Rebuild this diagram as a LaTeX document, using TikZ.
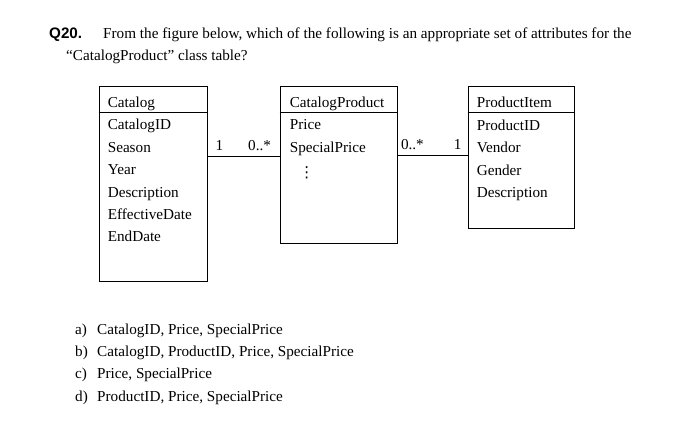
\documentclass[tikz,border=0pt]{standalone}
\usepackage{fontspec}
\setmainfont{Liberation Serif}
\newfontfamily\qfont{Liberation Sans}
\newfontfamily\symfont{DejaVu Sans}
\usetikzlibrary{positioning,calc}

\begin{document}
\begin{tikzpicture}[x=1pt,y=-1pt,
	font=\fontsize{15.2}{18}\selectfont,
	classbox/.style={draw,line width=0.8pt,inner sep=0pt},
	attr/.style={anchor=base west,inner sep=0pt},
	mult/.style={anchor=base,inner sep=0pt}]
	\useasboundingbox (0,0) rectangle (673,437);

	% The question
	\node [attr] (qnum) at (49,38) {\qfont\bfseries Q20.};
	\node [attr] (question) at (103,38) {From the figure below, which of the following is an appropriate set of attributes for the};
	\node [attr] (question cont) at (66,60) {“CatalogProduct” class table?};

	% The three class boxes
	\node [classbox,minimum width=108,minimum height=195] (catalog) at (153,183.5) {};
	\node [classbox,minimum width=117,minimum height=157] (catprod) at (338.5,164.5) {};
	\node [classbox,minimum width=106,minimum height=142] (item) at (521,157) {};

	% Line under each class name
	\foreach \cls in {catalog,catprod,item}
		\draw [line width=0.8pt] ($(\cls.north west)+(0,26.5)$) -- ($(\cls.north east)+(0,26.5)$);

	% Class names and attributes
	\node [attr] (catalog title) at ($(catalog.north west)+(9,22)$) {Catalog};
	\foreach \attrib [count=\i] in {CatalogID,Season,Year,Description,EffectiveDate,EndDate}
		\node [attr] (catalog attr \i) at ($(catalog title.base west)+(0,22.35*\i)$) {\attrib};

	\node [attr] (catprod title) at ($(catprod.north west)+(10,22)$) {CatalogProduct};
	\foreach \attrib [count=\i] in {Price,SpecialPrice}
		\node [attr] (catprod attr \i) at ($(catprod title.base west)+(0,22.35*\i)$) {\attrib};
	\node [inner sep=0pt] (catprod more) at ($(catprod.north west)+(27,87)$) {\symfont ⋮};

	\node [attr] (item title) at ($(item.north west)+(9,22)$) {ProductItem};
	\foreach \attrib [count=\i] in {ProductID,Vendor,Gender,Description}
		\node [attr] (item attr \i) at ($(item title.base west)+(0,22.5*\i)$) {\attrib};

	% The associations and their multiplicities
	\coordinate (catalog link) at ($(catalog.north east)+(0,70.5)$);
	\coordinate (item link) at ($(catprod.north east)+(0,69.5)$);
	\draw [line width=0.8pt] (catalog link) -- (catprod.west |- catalog link) coordinate (catprod link);
	\draw [line width=0.8pt] (item link) -- (item.west |- item link) coordinate (item end);
	\node [mult] (mult catalog) at ($(catalog link)+(12,-6)$) {1};
	\node [mult] (mult catprod) at ($(catprod link)+(-20,-6)$) {0..*};
	\node [mult] (mult catprod r) at ($(item link)+(15,-6)$) {0..*};
	\node [mult] (mult item) at ($(item end)+(-10,-6)$) {1};

	% The answers
	\foreach \lbl/\ans [count=\i] in {a)/{CatalogID, Price, SpecialPrice},
			b)/{CatalogID, ProductID, Price, SpecialPrice},
			c)/{Price, SpecialPrice},
			d)/{ProductID, Price, SpecialPrice}} {
		\node [attr] (opt \i) at (75,311.6+22.4*\i) {\lbl};
		\node [attr] (ans \i) at (97,311.6+22.4*\i) {\ans};
	}
\end{tikzpicture}
\end{document}
